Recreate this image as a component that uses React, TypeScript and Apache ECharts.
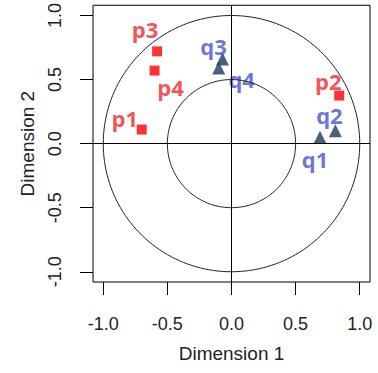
import React, { useEffect, useRef } from "react";
import * as echarts from "echarts";

const pNames = ["p1", "p2", "p3", "p4"];
const pX = [-0.7, 0.84, -0.58, -0.6];
const pY = [0.11, 0.375, 0.72, 0.57];

const qNames = ["q1", "q2", "q3", "q4"];
const qX = [0.69, 0.81, -0.07, -0.1];
const qY = [0.05, 0.1, 0.66, 0.59];

const tickValues = [-1.0, -0.5, 0.0, 0.5, 1.0];
const circleRadii = [1.0, 0.5];

// label offsets (layout only)
const pLabelOffsets = [[-17, -12], [-11, -15], [-12, -22], [16, 16]];
const qLabelOffsets = [[-5, 22], [-6, -16], [-9, -13], [23, 11]];

function circlePoints(r: number) {
  const pts: number[][] = [];
  for (let i = 0; i <= 360; i += 2) {
    const a = (i * Math.PI) / 180;
    pts.push([r * Math.cos(a), r * Math.sin(a)]);
  }
  return pts;
}

export default function App() {
  const ref = useRef<HTMLDivElement>(null);
  useEffect(() => {
    if (!ref.current) return;
    const chart = echarts.init(ref.current, undefined, { renderer: "svg" });
    const font = "Liberation Sans, Arial, sans-serif";
    const axisCommon = (name: string, isY: boolean) => ({
      type: "value" as const,
      min: -1.08,
      max: 1.08,
      name,
      nameLocation: "middle" as const,
      nameGap: isY ? 56 : 62,
      nameTextStyle: { fontFamily: font, fontSize: 19, color: "#222" },
      axisLine: { show: false, onZero: false },
      splitLine: { show: false },
      axisTick: {
        show: true,
        length: 13,
        customValues: tickValues,
        lineStyle: { color: "#000", width: 1 },
      },
      axisLabel: {
        customValues: tickValues,
        formatter: (v: number) => v.toFixed(1),
        fontFamily: font,
        fontSize: 18,
        color: "#222",
        rotate: isY ? 90 : 0,
        margin: isY ? 29 : 33,
      },
    });
    const labelStyle = (color: string) => ({
      show: true,
      position: "inside" as const,
      fontFamily: "Open Sans, Liberation Sans, sans-serif",
      fontWeight: "bold" as const,
      fontSize: 22,
      color,
      formatter: (p: any) => p.data.name,
    });
    chart.setOption({
      animation: false,
      grid: {
        left: 93,
        top: 5,
        width: 277,
        height: 277,
        show: true,
        borderColor: "#000",
        borderWidth: 1,
        backgroundColor: "transparent",
      },
      xAxis: axisCommon("Dimension 1", false),
      yAxis: axisCommon("Dimension 2", true),
      series: [
        ...circleRadii.map((r, idx) => ({
          type: "line",
          data: circlePoints(r),
          showSymbol: false,
          symbol: "none",
          silent: true,
          lineStyle: { color: "#222", width: 1 },
          markLine:
            idx === 0
              ? {
                  silent: true,
                  symbol: ["none", "none"],
                  label: { show: false },
                  lineStyle: { color: "#000", width: 1, type: "solid" },
                  data: [{ xAxis: 0 }, { yAxis: 0 }],
                }
              : undefined,
        })),
        {
          type: "scatter",
          symbol: "rect",
          symbolSize: 10,
          itemStyle: { color: "#ff0000" },
          label: labelStyle("#f0262a"),
          data: pNames.map((n, i) => ({
            name: n,
            value: [pX[i], pY[i]],
            label: { offset: pLabelOffsets[i] },
          })),
        },
        {
          type: "scatter",
          symbol: "triangle",
          symbolSize: 13,
          itemStyle: { color: "#1b3a5e" },
          label: labelStyle("#4650d6"),
          data: qNames.map((n, i) => ({
            name: n,
            value: [qX[i], qY[i]],
            label: { offset: qLabelOffsets[i] },
          })),
        },
      ],
    });
    return () => chart.dispose();
  }, []);
  return (
    <div
      ref={ref}
      style={{ position: "fixed", left: 0, top: 0, width: 378, height: 373, background: "#fff" }}
    />
  );
}
